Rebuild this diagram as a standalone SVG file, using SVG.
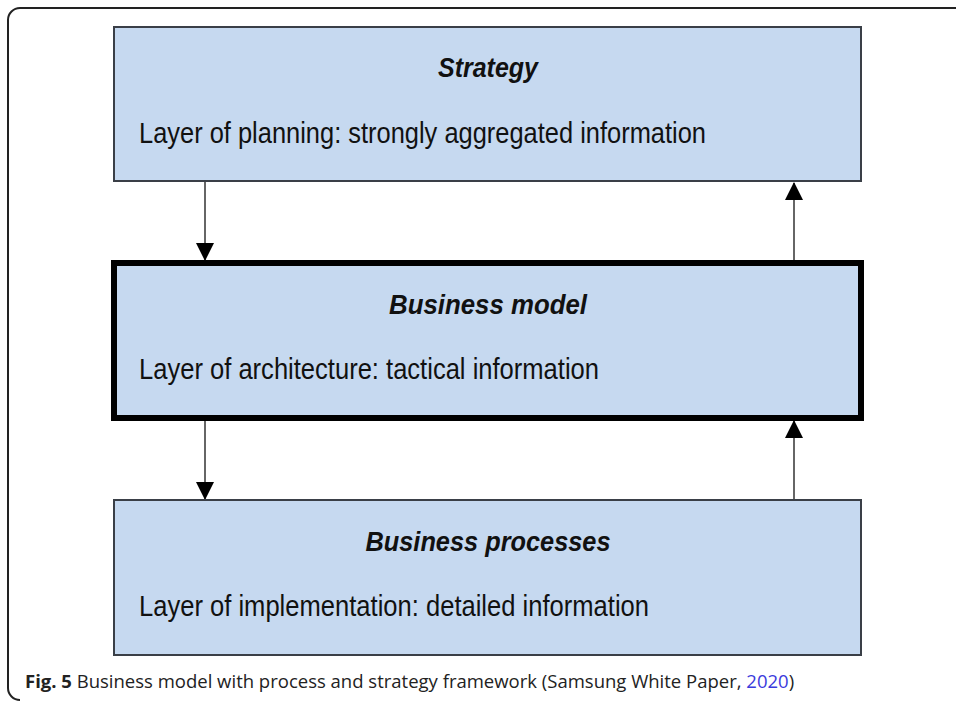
<svg xmlns="http://www.w3.org/2000/svg" width="956" height="702" viewBox="0 0 956 702">
<style>
.box{fill:#c6d9f0;stroke:#3a3f47;stroke-width:2}
.thick{fill:#c6d9f0;stroke:#000;stroke-width:6}
.title{font-family:"Liberation Sans",Arial,sans-serif;font-weight:bold;font-style:italic;font-size:27px;fill:#111;text-anchor:middle}
.desc{font-family:"Liberation Sans",Arial,sans-serif;font-size:30px;fill:#111}
.conn{stroke:#333;stroke-width:1.5;fill:none}
.cap{font-family:"Open Sans","Noto Sans",sans-serif;font-size:18.5px;fill:#222}
</style>
<defs>
<marker id="ah" markerWidth="18" markerHeight="20" refX="17" refY="9" orient="auto" markerUnits="userSpaceOnUse" viewBox="0 0 18 20">
<path d="M0,0 L18,9 L0,18 Z" fill="#000"/>
</marker>
</defs>
<rect width="956" height="702" fill="#fff"/>
<path d="M956,8 H20 A12,12 0 0 0 8,20 V688 A12,12 0 0 0 20,700" fill="none" stroke="#222" stroke-width="2"/>
<g id="connectors">
<line class="conn" x1="205" y1="181" x2="205" y2="260" marker-end="url(#ah)"/>
<line class="conn" x1="794" y1="260" x2="794" y2="183" marker-end="url(#ah)"/>
<line class="conn" x1="205" y1="421" x2="205" y2="499" marker-end="url(#ah)"/>
<line class="conn" x1="794" y1="500" x2="794" y2="421" marker-end="url(#ah)"/>
</g>
<g id="strategy">
<rect class="box" x="114" y="27" width="747" height="154"/>
<text class="title" x="488" y="77" textLength="100" lengthAdjust="spacingAndGlyphs">Strategy</text>
<text class="desc" x="139" y="143" textLength="567" lengthAdjust="spacingAndGlyphs">Layer of planning: strongly aggregated information</text>
</g>
<g id="business-model">
<rect class="thick" x="114" y="263" width="747" height="155"/>
<text class="title" x="488" y="314" textLength="198" lengthAdjust="spacingAndGlyphs">Business model</text>
<text class="desc" x="139" y="379" textLength="460" lengthAdjust="spacingAndGlyphs">Layer of architecture: tactical information</text>
</g>
<g id="business-processes">
<rect class="box" x="114" y="500" width="747" height="155"/>
<text class="title" x="488" y="551" textLength="245" lengthAdjust="spacingAndGlyphs">Business processes</text>
<text class="desc" x="139" y="616" textLength="510" lengthAdjust="spacingAndGlyphs">Layer of implementation: detailed information</text>
</g>
<g id="caption">
<text class="cap" x="25" y="688"><tspan font-weight="bold">Fig. 5</tspan> Business model with process and strategy framework (Samsung White Paper, <tspan style="fill:#3b3bdc">2020</tspan>)</text>
</g>
</svg>
